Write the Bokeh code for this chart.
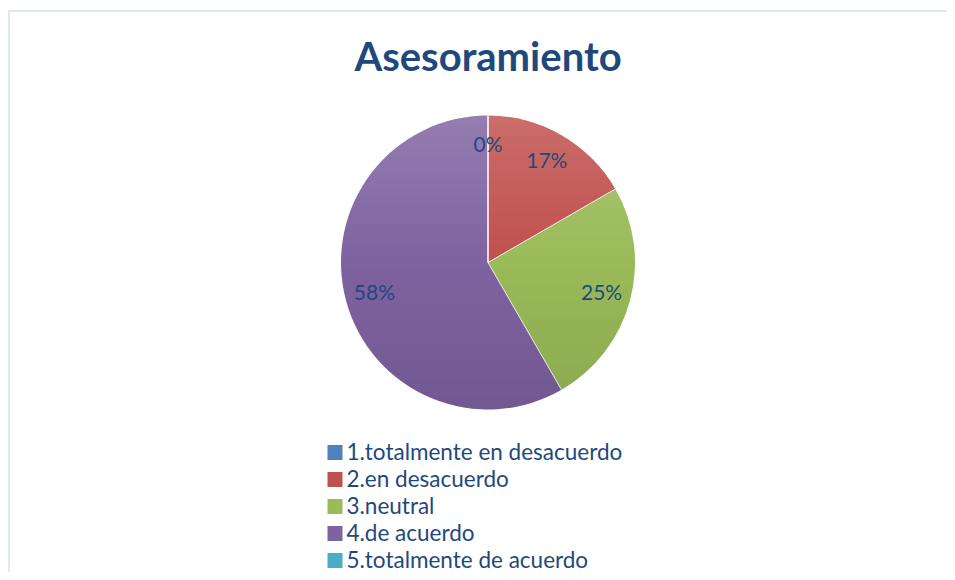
import numpy as np
from bokeh.plotting import figure
from bokeh.models import Range1d, ColumnDataSource
from bokeh.core.properties import value
from bokeh.embed import file_html
from bokeh.resources import INLINE

title = "Asesoramiento"
categories = ["1.totalmente en desacuerdo", "2.en desacuerdo", "3.neutral",
              "4.de acuerdo", "5.totalmente de acuerdo"]
counts = [0, 2, 3, 7, 0]
colors = ["#4F81BD", "#C0504D", "#9BBB59", "#7F63A1", "#4BACC6"]

TEXT_COLOR = "#1F497D"
FONT = "Lato"
W, H = 947, 572
TOP = 580                      # data y of the top edge (screen y = TOP - data y)
cx, cy, R = 487.5, TOP - 262, 147

p = figure(width=W, height=H, output_backend="svg", toolbar_location=None,
           x_range=Range1d(0, W), y_range=Range1d(TOP - H, TOP),
           min_border=0)
p.axis.visible = False
p.grid.visible = False
p.outline_line_color = None
p.background_fill_color = "white"
p.border_fill_color = "white"

# chart area border (only top and left visible)
p.quad(left=[8.5], right=[3000], bottom=[-3000], top=[TOP - 10.5],
       fill_color=None, line_color="#D5E2F4", line_width=1.5)

total = sum(counts)
fr = np.array(counts, dtype=float) / total
cum = np.concatenate([[0], np.cumsum(fr)])
start = np.pi / 2 - 2 * np.pi * cum[:-1]
end = np.pi / 2 - 2 * np.pi * cum[1:]

idx = [i for i in range(len(counts)) if counts[i] > 0]
src = ColumnDataSource(dict(start=[start[i] for i in idx], end=[end[i] for i in idx],
                            color=[colors[i] for i in idx]))
p.wedge(x=cx, y=cy, radius=R, start_angle="start", end_angle="end",
        direction="clock", fill_color="color", line_color=None, source=src)

# vertical shading overlay (lighter top, darker bottom)
NB = 70
edges = np.linspace(cy + R, cy - R, NB + 1)
xs, ys, fc, fa = [], [], [], []
for k in range(NB):
    y1, y2 = edges[k], edges[k + 1]
    t = (k + 0.5) / NB
    yy = np.linspace(y1, y2, 6)
    dx = np.sqrt(np.clip(R ** 2 - (yy - cy) ** 2, 0, None))
    xs.append(list(cx + dx) + list(cx - dx[::-1]))
    ys.append(list(yy) + list(yy[::-1]))
    if t < 0.5:
        fc.append("white"); fa.append((0.5 - t) * 0.34)
    else:
        fc.append("black"); fa.append((t - 0.5) * 0.2)
p.patches(xs=xs, ys=ys, fill_color=fc, fill_alpha=fa, line_color=None)

# separators
b_ang = 2 * np.pi * cum[:-1]
p.segment(x0=[cx] * len(b_ang), y0=[cy] * len(b_ang),
          x1=list(cx + R * np.sin(b_ang)), y1=list(cy + R * np.cos(b_ang)),
          line_color="white", line_width=1, line_alpha=0.8)

# data labels
FS = 21
mid = (cum[:-1] + cum[1:]) / 2
lab_r = 0.8 * R
lx = cx + lab_r * np.sin(2 * np.pi * mid)
ly = cy + lab_r * np.cos(2 * np.pi * mid)
labels = [f"{round(f * 100)}%" for f in fr]
keep = [0, 1, 2, 3]
p.text(x=[lx[i] for i in keep], y=[ly[i] + 1 for i in keep],
       text=[labels[i] for i in keep],
       text_font=value(FONT), text_font_size=f"{FS}px", text_color=TEXT_COLOR,
       text_align="center", text_baseline="middle")

# title
p.text(x=[cx], y=[TOP - 55], text=[title], text_font=value(FONT),
       text_font_size="40px", text_font_style="bold", text_color=TEXT_COLOR,
       text_align="center", text_baseline="middle")

# legend
n = len(categories)
mids = [TOP - (451 + 27 * i) for i in range(n)]
p.rect(x=[334.5] * n, y=[m - 1 for m in mids], width=15, height=15,
       fill_color=colors, line_color=None)
p.text(x=[346] * n, y=mids, text=categories, text_font=value(FONT),
       text_font_size="22.5px", text_color=TEXT_COLOR, text_align="left",
       text_baseline="middle")

open("out.html", "w").write(file_html(p, INLINE))
